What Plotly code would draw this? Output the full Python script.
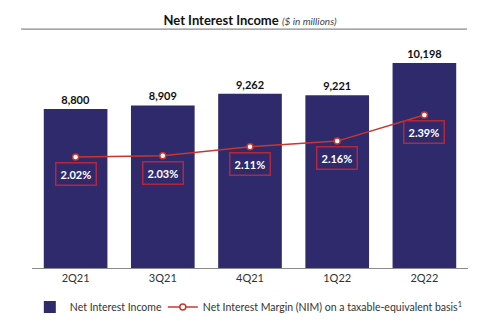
import plotly.graph_objects as go

quarters = ["2Q21", "3Q21", "4Q21", "1Q22", "2Q22"]
net_interest_income = [8800, 8909, 9262, 9221, 10198]
nim_pct = [2.02, 2.03, 2.11, 2.16, 2.39]

BAR_COLOR = "#2f2a6c"
LINE_COLOR = "#c8372d"
BOX_COLOR = "#b3263d"
FONT = "Lato"

fig = go.Figure()

fig.add_trace(go.Bar(
    x=quarters,
    y=net_interest_income,
    name="Net Interest Income",
    legend="legend",
    marker=dict(color=BAR_COLOR, line=dict(width=0)),
    text=[f"{v:,}" for v in net_interest_income],
    textposition="outside",
    textfont=dict(family=FONT, size=11, color="#111111", weight="bold"),
    cliponaxis=False,
    width=0.73,
))

fig.add_trace(go.Scatter(
    x=quarters,
    y=nim_pct,
    name="Net Interest Margin (NIM) on a taxable-equivalent basis<sup>1</sup>",
    legend="legend2",
    yaxis="y2",
    mode="lines+markers",
    line=dict(color=LINE_COLOR, width=1.5),
    marker=dict(size=6, color="white", line=dict(color=LINE_COLOR, width=1.5)),
))

# Boxed NIM labels under each line point
for q, v in zip(quarters, nim_pct):
    fig.add_annotation(
        x=q, y=v, xref="x", yref="y2",
        text=f"{v:.2f}%",
        showarrow=False,
        yshift=-17,
        font=dict(family=FONT, size=11, color="white", weight="bold"),
        bordercolor=BOX_COLOR,
        borderwidth=1.5,
        borderpad=4,
    )

# Rule under the chart title
fig.add_shape(
    type="line", xref="paper", yref="paper",
    x0=-0.025, x1=0.998, y0=1.048, y1=1.048,
    line=dict(color="#8a8a8a", width=1.2),
)

legend_style = dict(
    orientation="h",
    yanchor="middle",
    y=-0.171,
    xanchor="left",
    font=dict(family=FONT, size=10.5, color="#333333"),
    itemwidth=30,
    bgcolor="rgba(0,0,0,0)",
)

fig.update_layout(
    width=500, height=324,
    margin=dict(l=32, r=32, t=40, b=56, autoexpand=False),
    paper_bgcolor="white",
    plot_bgcolor="white",
    font=dict(family=FONT, color="#222222"),
    title=dict(
        text="<b>Net Interest Income</b> <i><span style='font-size:10px;color:#444'>($ in millions)</span></i>",
        x=0.5, xanchor="center",
        y=1 - 20 / 324, yanchor="middle",
        font=dict(family=FONT, size=13, color="#111111"),
    ),
    xaxis=dict(
        showline=True, linecolor="#8a8a8a", linewidth=1,
        showgrid=False, ticks="",
        tickfont=dict(family=FONT, size=11, color="#333333"),
    ),
    yaxis=dict(
        range=[3967, 10897], visible=False, showgrid=False, zeroline=False,
    ),
    yaxis2=dict(
        range=[1.042, 3.051], overlaying="y", side="right",
        visible=False, showgrid=False, zeroline=False,
    ),
    showlegend=True,
    legend=dict(legend_style, x=-0.005),
    legend2=dict(legend_style, x=0.30),
    bargap=0.27,
)

fig.write_html("out.html")
